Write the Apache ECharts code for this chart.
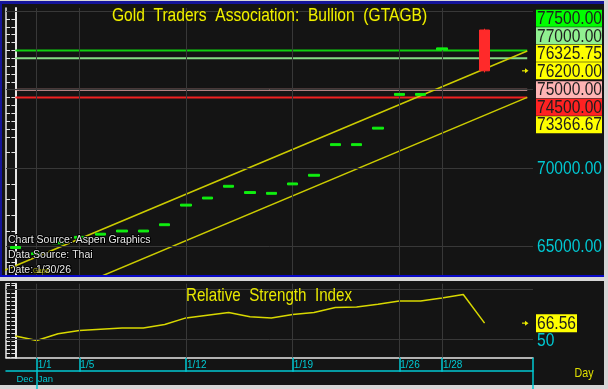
<!DOCTYPE html>
<html><head><meta charset="utf-8">
<script src="https://cdn.jsdelivr.net/npm/echarts@6/dist/echarts.min.js"></script>
<style>
html,body{margin:0;padding:0;background:#d6d6d6;}
#wrap{position:relative;width:608px;height:389px;overflow:hidden;background:#d6d6d6;}
.pn{position:absolute;background:#141414;}
.bd{position:absolute;z-index:5;}
#chart{position:absolute;left:0;top:0;width:608px;height:389px;z-index:2;}
</style></head><body>
<div id="wrap">
<div class="pn" style="left:0;top:1px;width:604px;height:276px"></div>
<div class="pn" style="left:0;top:281px;width:604px;height:104px"></div>
<div id="chart"></div>
<div class="bd" style="left:0;top:1px;width:604px;height:3px;background:#14149a"></div>
<div class="bd" style="left:0;top:1px;width:2px;height:276px;background:#14149a"></div>
<div class="bd" style="left:0;top:275px;width:604px;height:2px;background:#0a0ac8"></div>
</div>
<script>
// ---------- data ----------
const dates  = ['12/31','1/1','1/2','1/5','1/6','1/7','1/8','1/9','1/12','1/13','1/14','1/15','1/16','1/19','1/20','1/21','1/22','1/23','1/26','1/27','1/28','1/29','1/30'];
const opens  = [64890,64490,65190,65540,65740,65940,65940,66340,67590,68040,68790,68390,68340,68940,69490,71440,71440,72490,74640,74640,77540,null,78800];
const closes = [65010,64610,65310,65660,65860,66060,66060,66460,67710,68160,68910,68510,68460,69060,69610,71560,71560,72610,74760,74760,77660,null,76200];
const lows   = [64890,64490,65190,65540,65740,65940,65940,66340,67590,68040,68790,68390,68340,68940,69490,71440,71440,72490,74640,74640,77540,null,76100];
const highs  = [65010,64610,65310,65660,65860,66060,66060,66460,67710,68160,68910,68510,68460,69060,69610,71560,71560,72610,74760,74760,77660,null,78880];
const rsi    = [53.8,49.2,56.0,59.2,60.5,61.8,61.8,65.2,71.8,74.5,77.2,73.0,71.8,75.2,77.2,82.2,82.8,85.5,88.8,88.8,91.8,95.2,66.56];
const levels = [77500, 77000, 75000, 74500];
const channelEnd = [76325.75, 73366.67];   // upper / lower channel value at last date
const channelSlope = 570;                  // per trading session
const dateTicks = ['1/1','1/5','1/12','1/19','1/26','1/28'];
const monthStarts = ['12/31','1/1'];
const monthLabels = ['Dec','Jan'];
const priceLabels = [65000, 70000];
const priceGrid = [65000, 70000, 75000, 80000];
const rsiLabels = [50];
const rsiGrid = [50, 100];
const lastRsi = 66.56;

// ---------- styling / layout ----------
const FONT = "'Liberation Sans',Arial,sans-serif";
const NARROW = 0.82; // horizontal condensation of the label face
const CYAN = '#00c8d2', WHITE = '#e6e6e6', GRIDC = '#383838', YEL = '#e8e800', RED = '#ff2a2a', GRN = '#10f010';
const X_MIN = -0.44, X_MAX = 24.27;
const Y_MIN = 63200, Y_MAX = 80200;

const N = dates.length, lastIdx = N - 1, PROJ = lastIdx + 2;
const tickIdx = dateTicks.map(d => dates.indexOf(d));
const monthIdx = monthStarts.map(d => dates.indexOf(d));
const upperAt = i => channelEnd[0] + (i - lastIdx) * channelSlope;
const lowerAt = i => channelEnd[1] + (i - lastIdx) * channelSlope;
const priceTicks = [];
for (let v = 63500; v <= 80000; v += 500) if (v >= 72000 || v % 1000 === 0) priceTicks.push(v);

const candleData = [];
dates.forEach((d, i) => {
  if (closes[i] == null) return;
  candleData.push([i, opens[i], closes[i], lows[i], highs[i]]);
});

const levelColors = ['#10d010', '#84dc84', '#e4a4a4', '#f02020'];
const levelSeries = levels.map((v, k) => ({
  type: 'line', xAxisIndex: 0, yAxisIndex: 0, symbol: 'none', silent: true, z: 3,
  data: [[monthIdx[0], v], [PROJ, v]],
  lineStyle: { color: levelColors[k], width: 2 }
}));
const channelSeries = [upperAt, lowerAt].map(f => ({
  type: 'line', xAxisIndex: 0, yAxisIndex: 0, symbol: 'none', silent: true, z: 4,
  data: [[X_MIN - 1, f(X_MIN - 1)], [PROJ, f(PROJ)]],
  lineStyle: { color: '#cccc00', width: 1.5 }
}));

const chart = echarts.init(document.getElementById('chart'));
const option = {
  animation: false,
  grid: [
    { left: 6, right: 75, top: 8, height: 267 },
    { left: 6, right: 75, top: 283.7, height: 74 },
    { left: 6, right: 75, top: 371, height: 14 }
  ],
  xAxis: [
    { gridIndex: 0, type: 'value', min: X_MIN, max: X_MAX, axisLine: { show: false }, axisTick: { show: false }, axisLabel: { show: false }, splitLine: { show: false } },
    { gridIndex: 1, type: 'value', min: X_MIN, max: X_MAX,
      axisLine: { show: true, onZero: false, lineStyle: { color: WHITE, width: 1.5 } },
      axisTick: { show: true, customValues: tickIdx, length: 14, lineStyle: { color: CYAN, width: 1.5 } },
      axisLabel: { show: true, customValues: tickIdx, formatter: v => dates[v], color: CYAN, fontFamily: FONT, fontSize: 10, align: 'left', verticalAlign: 'top', margin: 3, padding: [0, 0, 0, 1] },
      splitLine: { show: false } },
    { gridIndex: 2, type: 'value', position: 'top', min: X_MIN, max: X_MAX,
      axisLine: { show: true, onZero: false, lineStyle: { color: CYAN, width: 1.5 } },
      axisTick: { show: true, inside: true, customValues: monthIdx.slice(1), length: 18, lineStyle: { color: CYAN, width: 1.5 } },
      axisLabel: { show: true, inside: true, customValues: monthIdx, formatter: v => monthLabels[monthIdx.indexOf(v)], color: CYAN, fontFamily: FONT, fontSize: 9.5, align: 'left', verticalAlign: 'top', margin: 3, padding: [0, 0, 0, 1] },
      splitLine: { show: false } }
  ],
  yAxis: [
    { gridIndex: 0, type: 'value', position: 'right', min: Y_MIN, max: Y_MAX,
      axisLine: { show: true, lineStyle: { color: WHITE, width: 2 } },
      axisTick: { show: true, inside: true, length: 4, customValues: priceTicks, lineStyle: { color: WHITE } },
      axisLabel: { show: false }, splitLine: { show: false } },
    { gridIndex: 0, type: 'value', position: 'left', min: Y_MIN, max: Y_MAX,
      axisLine: { show: true, lineStyle: { color: WHITE, width: 1.5 } },
      axisTick: { show: true, inside: true, length: 4, customValues: priceTicks, lineStyle: { color: WHITE } },
      axisLabel: { show: false }, splitLine: { show: false } },
    { gridIndex: 1, type: 'value', position: 'right', min: 32, max: 106, interval: 4,
      axisLine: { show: true, lineStyle: { color: WHITE, width: 2 } },
      axisTick: { show: true, inside: true, length: 4, lineStyle: { color: WHITE } },
      axisLabel: { show: false }, splitLine: { show: false } },
    { gridIndex: 1, type: 'value', position: 'left', min: 32, max: 106, interval: 4,
      axisLine: { show: true, lineStyle: { color: WHITE, width: 1.5 } },
      axisTick: { show: true, inside: true, length: 4, lineStyle: { color: WHITE } },
      axisLabel: { show: false }, splitLine: { show: false } },
    { gridIndex: 2, type: 'value', show: false, min: 0, max: 1 }
  ],
  series: [
    { type: 'line', xAxisIndex: 0, yAxisIndex: 0, data: [], silent: true, z: 1,
      markLine: { silent: true, symbol: ['none', 'none'], label: { show: false }, animation: false,
        lineStyle: { color: GRIDC, width: 1, type: 'solid' },
        data: [...priceGrid.map(v => ({ yAxis: v })), ...tickIdx.map(i => ({ xAxis: i }))] } },
    ...levelSeries,
    ...channelSeries,
    { type: 'candlestick', xAxisIndex: 0, yAxisIndex: 0, z: 5, barWidth: 11,
      encode: { x: 0, y: [1, 2, 3, 4] },
      itemStyle: { color: GRN, color0: RED, borderColor: GRN, borderColor0: RED, borderColorDoji: GRN, borderWidth: 1 },
      data: candleData },
    { type: 'line', xAxisIndex: 1, yAxisIndex: 2, data: [], silent: true, z: 1,
      markLine: { silent: true, symbol: ['none', 'none'], label: { show: false }, animation: false,
        lineStyle: { color: GRIDC, width: 1, type: 'solid' },
        data: [...rsiGrid.map(v => ({ yAxis: v })), ...tickIdx.map(i => ({ xAxis: i }))] } },
    { type: 'line', xAxisIndex: 1, yAxisIndex: 2, symbol: 'none', z: 3,
      data: rsi.map((v, i) => [i, v]), lineStyle: { color: '#d8d800', width: 1.5 } }
  ]
};
chart.setOption(option);

// ---------- text drawn with a condensed face ----------
const py = v => chart.convertToPixel({ yAxisIndex: 0 }, v);
const pr = v => chart.convertToPixel({ yAxisIndex: 2 }, v);
const g = [];
const ntext = (x, y, text, size, fill, align, extra) => ({
  type: 'text', x, y, scaleX: NARROW, z: 60,
  style: Object.assign({ text, font: `${size}px ${FONT}`, fill, align: align || 'left', verticalAlign: 'middle' }, extra || {})
});

// axis value labels (cyan)
priceLabels.forEach(v => g.push(ntext(537, py(v) + 0.5, v.toFixed(2), 19, CYAN)));
rsiLabels.forEach(v => g.push(ntext(537, pr(v) + 1, String(v), 19, CYAN)));

// right-hand value boxes, stacked around the last price
const lastClose = closes[lastIdx];
const boxes = [
  { v: levels[0], bg: '#00ff00' },
  { v: levels[1], bg: '#90f090' },
  { v: channelEnd[0], bg: '#ffff00' },
  { v: lastClose, bg: '#ffff00', anchor: true },
  { v: levels[2], bg: '#ffb4b4' },
  { v: levels[3], bg: '#ff2222' },
  { v: channelEnd[1], bg: '#ffff00' }
];
const H = 17.5;
const a = boxes.findIndex(b => b.anchor);
boxes[a].y = py(boxes[a].v);
for (let i = a - 1; i >= 0; i--) boxes[i].y = Math.min(py(boxes[i].v), boxes[i + 1].y - H);
for (let i = a + 1; i < boxes.length; i++) boxes[i].y = Math.max(py(boxes[i].v), boxes[i - 1].y + H);
boxes.forEach(b => {
  g.push({ type: 'rect', shape: { x: 536, y: b.y - 8.5, width: 66, height: 17 }, style: { fill: b.bg }, z: 50 });
  g.push(ntext(537, b.y + 0.5, b.v.toFixed(2), 19, '#1e1e1e'));
});
const ry = pr(lastRsi);
g.push({ type: 'rect', shape: { x: 536, y: ry - 9, width: 41, height: 18 }, style: { fill: '#ffff00' }, z: 50 });
g.push(ntext(537, ry + 0.5, lastRsi.toFixed(2), 19, '#1e1e1e'));
// small arrows marking the last values
[py(lastClose), ry].forEach(yy => {
  g.push({ type: 'line', shape: { x1: 522, y1: yy, x2: 526, y2: yy }, style: { stroke: YEL, lineWidth: 1.2 }, z: 52 });
  g.push({ type: 'polygon', shape: { points: [[525, yy - 2.5], [528.5, yy], [525, yy + 2.5]] }, style: { fill: YEL }, z: 52 });
});
// titles
g.push(ntext(269.5, 15.5, 'Gold  Traders  Association:  Bullion  (GTAGB)', 19, '#f0f000', 'center', { stroke: '#282800', lineWidth: 1 }));
g.push(ntext(269, 296, 'Relative  Strength  Index', 18.5, '#e8e800', 'center'));
// source notes
['Chart Source: Aspen Graphics', 'Data Source: Thai', 'Date: 1/30/26'].forEach((t, k) => {
  g.push({ type: 'text', x: 8, y: 240.5 + k * 15, z: 60, style: { text: t, font: `10.5px ${FONT}`, fill: '#e8e8e8', stroke: '#000', lineWidth: 2, align: 'left', verticalAlign: 'middle' } });
});
g.push(ntext(33, 271, 'Gaps', 8, '#a8a800'));
// right column bits
g.push({ type: 'line', shape: { x1: 533, y1: 357.7, x2: 533, y2: 389 }, style: { stroke: CYAN, lineWidth: 1.5 }, z: 40 });
g.push(ntext(584, 373, 'Day', 13, '#e0e000', 'center'));
chart.setOption({ graphic: g });
</script>
</body></html>
